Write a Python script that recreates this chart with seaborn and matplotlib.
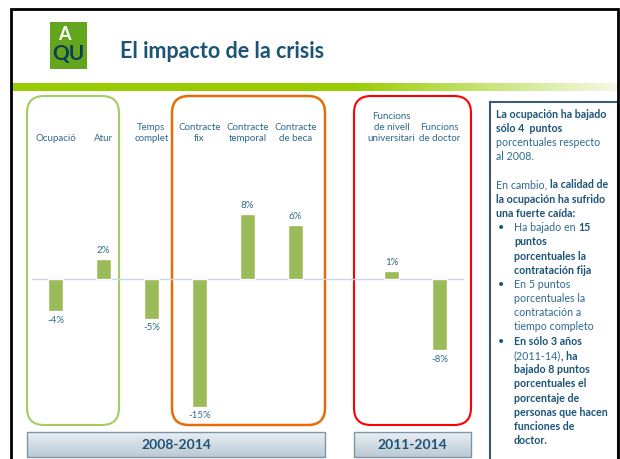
import numpy as np
import pandas as pd
import seaborn as sns
import matplotlib.pyplot as plt
from matplotlib.colors import to_rgb
from matplotlib.patches import FancyBboxPatch, Rectangle

# Chart data (percentage-point change)
labels = ["Ocupació", "Atur", "Temps\ncomplet", "Contracte\nfix", "Contracte\ntemporal",
          "Contracte\nde beca", "Funcions\nde nivell\nuniversitari", "Funcions\nde doctor"]
values = [-3.8, 2.3, -4.7, -15.0, 7.6, 6.3, 0.9, -8.4]
order = labels[:6] + [" "] + labels[6:]   # empty slot between the two periods
periods = ["2008-2014", "2011-2014"]

sns.set_style("white")
plt.rcParams["font.family"] = ["Lato", "DejaVu Sans"]

W, H = 620, 459
fig = plt.figure(figsize=(6.2, 4.59), dpi=100)

# background axes in pixel coordinates for the slide decoration
bg = fig.add_axes([0, 0, 1, 1])
bg.axis("off")


def px_axes(x0, y0, x1, y1):
    return fig.add_axes([x0 / W, 1 - y1 / H, (x1 - x0) / W, (y1 - y0) / H])


dark = "#1C5478"
label_col = "#2E6A8E"

# slide frame
bg.plot([11, 11, 618, 618], [H, 9, 9, H], color="black", lw=2, solid_joinstyle="miter")

# logo
bg.add_patch(Rectangle((50, 22), 37, 47, fc="#63A51C", ec="none"))
bg.text(64, 34, "A", color="white", fontsize=13, fontweight="bold", ha="center", va="center")
bg.text(68, 54, "QU", color="#0D3B5A", fontsize=15, fontweight="bold", ha="center", va="center")
bg.text(120, 51, "El impacto de la crisis", color=dark, fontsize=15.5, fontweight="bold",
        ha="left", va="center")

# green band with fade
xs = np.linspace(11, 618, 607)
band = np.ones((1, len(xs), 4))
band[..., :3] = to_rgb("#99CC00")
band[0, :, 3] = np.clip(1 - (xs - 350) / (618 - 350) * 0.9, 0.1, 1)
bg.imshow(band, extent=(11, 618, 91, 83), aspect="auto", interpolation="bilinear")

# rounded group frames
for x0, x1, col, lw in [(27, 119, "#A3CD62", 1.5), (172, 325, "#E46C0A", 1.8), (354, 471, "#FF0000", 1.5)]:
    bg.add_patch(FancyBboxPatch((x0, 96), x1 - x0, 329, boxstyle="round,pad=0,rounding_size=17",
                                fc="none", ec=col, lw=lw))

# period boxes
grad = np.linspace(0, 1, 30)[:, None, None] * (np.array(to_rgb("#BCC9D4")) - np.array(to_rgb("#E9EEF2"))) \
    + np.array(to_rgb("#E9EEF2"))
for (x0, x1), txt in zip([(27, 325), (354, 471)], periods):
    bg.imshow(grad, extent=(x0, x1, 457, 432), aspect="auto", interpolation="bilinear")
    bg.add_patch(Rectangle((x0, 432), x1 - x0, 25, fc="none", ec="#7A96AA", lw=1))
    bg.text((x0 + x1) / 2, 445, txt, color=dark, fontsize=10, fontweight="bold", ha="center", va="center")

# text panel
bg.add_patch(Rectangle((490, 102), 128, 400, fc="white", ec="#3B5B70", lw=1.5))

bg.set_xlim(0, W)
bg.set_ylim(H, 0)

# bar chart
ax = px_axes(31.5, 95, 463.5, 430)
ax.patch.set_alpha(0)
df = pd.DataFrame({"indicador": labels, "variacion": values})
sns.barplot(data=df, x="indicador", y="variacion", order=order, color="#9BBB59",
            saturation=1, width=0.31, errorbar=None, ax=ax)
ax.axhline(0, color="#C5D9EA", lw=1, zorder=0)
ax.bar_label(ax.containers[0], fmt="{:.0f}%", padding=3, fontsize=7, color=label_col)
for i, lab in enumerate(order):
    ax.text(i, 16.0, lab, ha="center", va="bottom", fontsize=7, color=label_col, linespacing=1.3)
ax.set_xlim(-0.5, 8.5)
ax.set_ylim(-17.76, 21.65)
ax.set_xticks([])
ax.set_yticks([])
ax.set_xlabel("")
ax.set_ylabel("")
sns.despine(ax=ax, left=True, bottom=True)

# rich text in the panel
panel = [
    (False, [("La ocupación ha bajado", True)]),
    (False, [("sólo 4  puntos", True)]),
    (False, [("porcentuales respecto", False)]),
    (False, [("al 2008.", False)]),
    (False, []),
    (False, [("En cambio, ", False), ("la calidad de", True)]),
    (False, [("la ocupación ha sufrido", True)]),
    (False, [("una fuerte caída:", True)]),
    (True, [("Ha bajado en ", False), ("15", True)]),
    (False, [("puntos", True)]),
    (False, [("porcentuales la", True)]),
    (False, [("contratación fija", True)]),
    (True, [("En 5 puntos", False)]),
    (False, [("porcentuales la", False)]),
    (False, [("contratación a", False)]),
    (False, [("tiempo completo", False)]),
    (True, [("En sólo 3 años", True)]),
    (False, [("(2011-14)", False), (", ha", True)]),
    (False, [("bajado 8 puntos", True)]),
    (False, [("porcentuales el", True)]),
    (False, [("porcentaje de", True)]),
    (False, [("personas que hacen", True)]),
    (False, [("funciones de", True)]),
    (False, [("doctor.", True)]),
]

renderer = fig.canvas.get_renderer()
fs = 7.7


def text_width(s, bold):
    w = []
    for probe in ("x" + s + "x", "xx"):
        t = bg.text(0, 0, probe, fontsize=fs, fontweight="bold" if bold else "normal")
        w.append(t.get_window_extent(renderer).width)
        t.remove()
    return w[0] - w[1]


for k, (bullet, segs) in enumerate(panel):
    y = 114 + k * 14.2
    x = 514 if k >= 8 else 496
    if bullet:
        bg.text(498, y, "•", fontsize=fs, color=dark, va="center", ha="left")
    for s, bold in segs:
        bg.text(x, y, s, fontsize=fs, color=dark if bold else label_col,
                fontweight="bold" if bold else "normal", va="center", ha="left")
        x += text_width(s, bold)

fig.savefig("out.png", dpi=100)
